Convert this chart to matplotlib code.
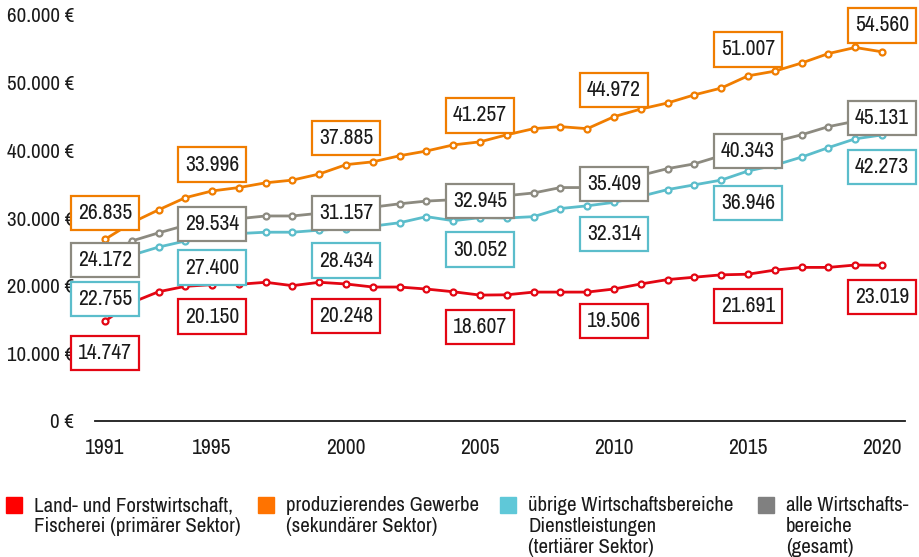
import matplotlib
matplotlib.use("Agg")
import matplotlib.pyplot as plt
from matplotlib.patches import Rectangle

# Verfuegbares Einkommen je Erwerbstaetigen nach Sektoren (Euro)
years = list(range(1991, 2021))

primaer = [
    14747, 17500, 19100, 19900, 20150, 20200, 20500, 20000, 20500, 20248,
    19800, 19800, 19500, 19100, 18607, 18650, 19050, 19050, 19050, 19506,
    20250, 20900, 21250, 21600, 21691, 22300, 22700, 22700, 23050, 23019,
]
sekundaer = [
    26835, 29300, 31200, 33000, 33996, 34500, 35200, 35600, 36500, 37885,
    38300, 39200, 39900, 40800, 41257, 42300, 43200, 43500, 43200, 44972,
    46100, 47000, 48200, 49200, 51007, 51700, 52900, 54300, 55200, 54560,
]
tertiaer = [
    22755, 24500, 25700, 26600, 27400, 27700, 27900, 27900, 28200, 28434,
    28800, 29300, 30200, 29600, 30052, 30000, 30200, 31400, 31800, 32314,
    33200, 34200, 34900, 35600, 36946, 37800, 39000, 40400, 41700, 42273,
]
gesamt = [
    24172, 26600, 27800, 28900, 29534, 29900, 30300, 30300, 30700, 31157,
    31600, 32100, 32500, 32700, 32945, 33300, 33700, 34500, 34500, 35409,
    36300, 37300, 38000, 39200, 40343, 41300, 42300, 43500, 44300, 45131,
]

label_years = [1991, 1995, 2000, 2005, 2010, 2015, 2020]
x_ticks = [1991, 1995, 2000, 2005, 2010, 2015, 2020]
y_ticks = [0, 10000, 20000, 30000, 40000, 50000, 60000]

legend_texts = [
    "Land- und Forstwirtschaft,\nFischerei (primärer Sektor)",
    "produzierendes Gewerbe\n(sekundärer Sektor)",
    "übrige Wirtschaftsbereiche\nDienstleistungen\n(tertiärer Sektor)",
    "alle Wirtschafts-\nbereiche\n(gesamt)",
]

plt.rcParams["font.family"] = ["Archivo Narrow", "DejaVu Sans"]

# (values, line colour, legend colour, label offset in points)
series = [
    (primaer, "#e30613", "#ff0000", -23),
    (sekundaer, "#f07d00", "#ff7300", 19),
    (tertiaer, "#5bbdcb", "#5fc8d8", -23),
    (gesamt, "#8c8a80", "#808080", -2),
]


def fmt(v):
    return f"{v:,} €".replace(",", ".")


fig = plt.figure(figsize=(9.19, 5.57), dpi=100)
ax = fig.add_axes([95 / 919, 1 - 421 / 557, 810 / 919, 406 / 557])

for values, color, _, off in series:
    ax.plot(years, values, color=color, lw=2, zorder=2,
            marker="o", ms=4.3, mfc="white", mec=color, mew=1.6)

# Beschriftungskaesten
for values, color, _, off in series:
    for yr in label_years:
        v = values[years.index(yr)]
        ax.annotate(f"{v:,}".replace(",", "."), (yr, v),
                    xytext=(0, off), textcoords="offset points",
                    ha="center", va="center", fontsize=15.5, color="#1a1a1a",
                    zorder=5, annotation_clip=False,
                    bbox=dict(boxstyle="square,pad=0.33", fc="white",
                              ec=color, lw=1.6))

ax.set_xlim(1990.63, 2020.86)
ax.set_ylim(0, 60000)
ax.set_xticks(x_ticks)
ax.set_yticks(y_ticks)
ax.set_yticklabels([fmt(v) for v in y_ticks])
ax.tick_params(axis="both", length=0, colors="#1a1a1a")
ax.tick_params(axis="y", pad=15, labelsize=15)
ax.tick_params(axis="x", pad=12, labelsize=15.5)
for s in ["top", "right", "left"]:
    ax.spines[s].set_visible(False)
ax.spines["bottom"].set_linewidth(1.3)
ax.spines["bottom"].set_color("#1a1a1a")

# Legende
leg_x = [6, 258, 500, 758]
for (values, _, lcol, _), lx, txt in zip(series, leg_x, legend_texts):
    fig.patches.append(Rectangle((lx / 919, 1 - 513 / 557), 16 / 919, 16 / 557,
                                 transform=fig.transFigure, color=lcol))
    fig.text((lx + 28) / 919, 1 - 496 / 557, txt, ha="left", va="top",
             fontsize=15, color="#1a1a1a", linespacing=1.13)

fig.savefig("out.png", dpi=100)
